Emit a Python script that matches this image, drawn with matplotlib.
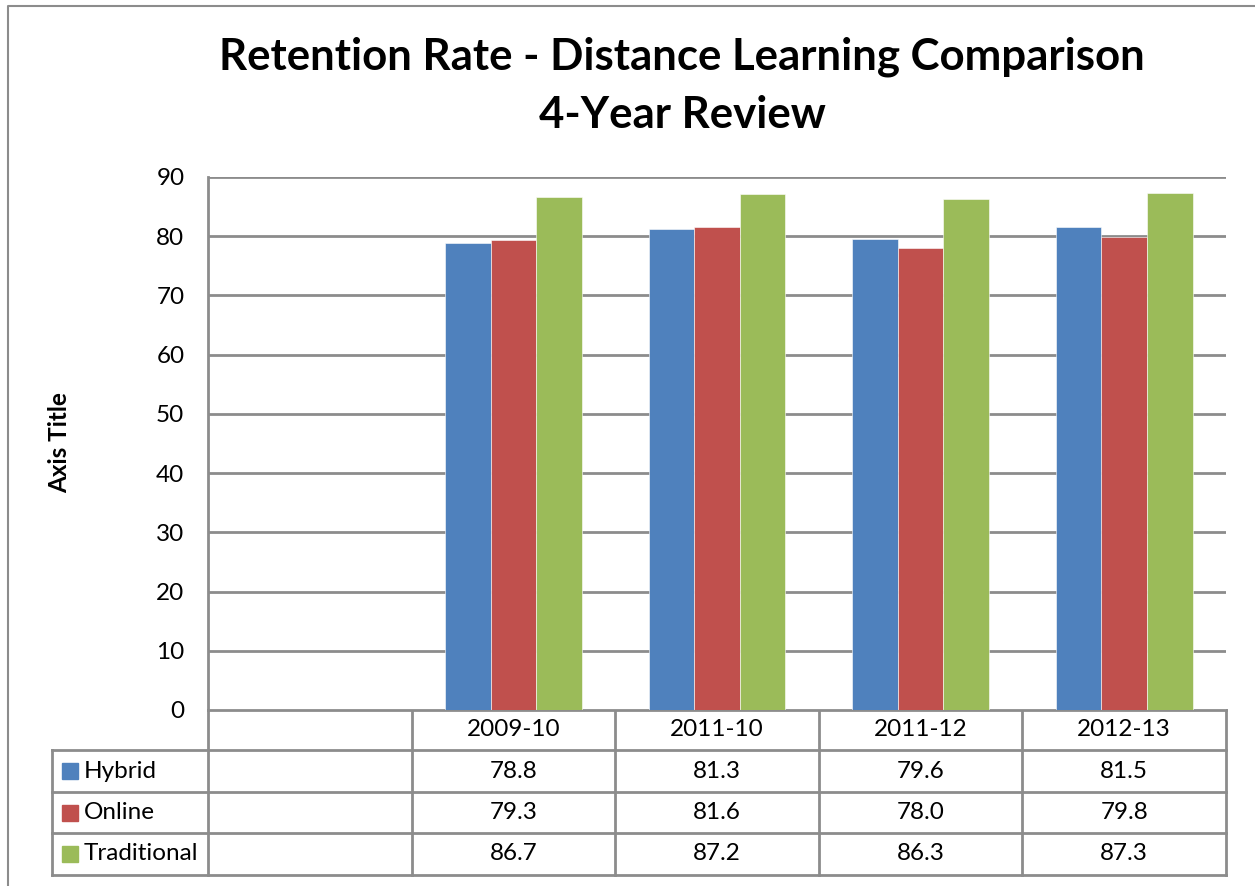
# retention rate bar chart with excel-style data table underneath
import matplotlib.pyplot as plt
import numpy as np

plt.rcParams['font.family'] = ['Lato', 'DejaVu Sans']

categories = ['', '2009-10', '2011-10', '2011-12', '2012-13']
series = ['Hybrid', 'Online', 'Traditional']
hybrid = [np.nan, 78.8, 81.3, 79.6, 81.5]
online = [np.nan, 79.3, 81.6, 78.0, 79.8]
traditional = [np.nan, 86.7, 87.2, 86.3, 87.3]
colors = ['#4F81BD', '#C0504D', '#9BBB59']
yticks = [0, 10, 20, 30, 40, 50, 60, 70, 80, 90]

W, H = 1255, 886
fs = 17.5
fig = plt.figure(figsize=(W / 100, H / 100), dpi=100)

# overlay in pixel coords for border, title, table
ov = fig.add_axes([0, 0, 1, 1])
ov.set_xlim(0, W)
ov.set_ylim(H, 0)
ov.axis('off')

grid_c = '#8C8C8C'
ov.plot([8, 8, W + 5], [H + 5, 6, 6], color=grid_c, lw=1.5)

ov.text(682, 57, 'Retention Rate - Distance Learning Comparison', ha='center', va='center',
        fontsize=31.5, fontweight='bold')
ov.text(682, 115, '4-Year Review', ha='center', va='center', fontsize=31.5, fontweight='bold')
ov.text(60, 443, 'Axis Title', ha='center', va='center', rotation=90, fontsize=fs, fontweight='bold')

# plot area
px0, px1, py0, py1 = 208, 1226, 177, 710
ax = fig.add_axes([px0 / W, 1 - py1 / H, (px1 - px0) / W, (py1 - py0) / H])
x = np.arange(len(categories))
bw = 0.224
for i, (vals, c) in enumerate(zip([hybrid, online, traditional], colors)):
    ax.bar(x + (i - 1) * bw, vals, width=bw, color=c, edgecolor='white', linewidth=0.4, zorder=3)
ax.set_xlim(-0.5, len(categories) - 0.5)
ax.set_ylim(0, 90)
ax.set_yticks(yticks)
ax.set_yticklabels([str(t) for t in yticks], fontsize=fs)
ax.tick_params(axis='y', length=0, pad=17)
ax.set_xticks([])
ax.grid(axis='y', color=grid_c, lw=2, zorder=0)
for s in ['top', 'right', 'bottom']:
    ax.spines[s].set_visible(False)
ax.spines['left'].set_color(grid_c)
ax.spines['left'].set_linewidth(2)

# data table
col_x = [px0 + (px1 - px0) * k / len(categories) for k in range(len(categories) + 1)]
row_y = [710, 750, 792, 833, 875]
lw = 2
ov.plot([px0, px1], [row_y[0], row_y[0]], color=grid_c, lw=lw)
for yy in row_y[1:]:
    ov.plot([52, px1], [yy, yy], color=grid_c, lw=lw)
ov.plot([52, 52], [row_y[1], row_y[-1]], color=grid_c, lw=lw)
for xx in col_x:
    ov.plot([xx, xx], [row_y[0], row_y[-1]], color=grid_c, lw=lw)

for k, cat in enumerate(categories):
    cx = (col_x[k] + col_x[k + 1]) / 2
    ov.text(cx, (row_y[0] + row_y[1]) / 2, cat, ha='center', va='center', fontsize=fs)

for r, (name, vals, c) in enumerate(zip(series, [hybrid, online, traditional], colors)):
    cy = (row_y[r + 1] + row_y[r + 2]) / 2
    ov.add_patch(plt.Rectangle((62, cy - 8), 16, 16, color=c))
    ov.text(84, cy, name, ha='left', va='center', fontsize=fs)
    for k, v in enumerate(vals):
        if np.isnan(v):
            continue
        cx = (col_x[k] + col_x[k + 1]) / 2
        ov.text(cx, cy, f'{v:.1f}', ha='center', va='center', fontsize=fs)

fig.savefig('out.png', dpi=100)
